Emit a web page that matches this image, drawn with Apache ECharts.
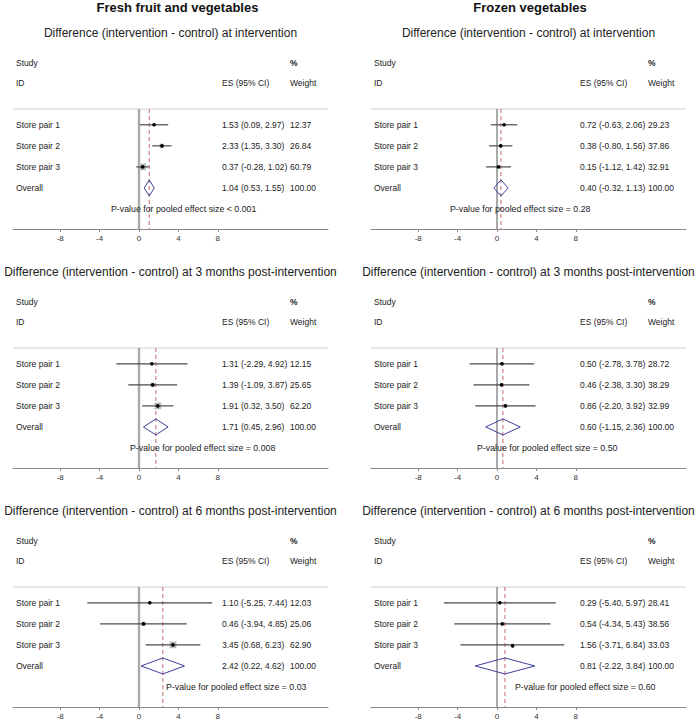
<!DOCTYPE html>
<html>
<head>
<meta charset="utf-8">
<script src="https://cdn.jsdelivr.net/npm/echarts@6/dist/echarts.min.js"></script>
<style>
html,body{margin:0;padding:0;background:#fff;}
#chart{width:698px;height:723px;}
</style>
</head>
<body>
<div id="chart"></div>
<script>
// ---------------- data ----------------
const studies = ['Store pair 1', 'Store pair 2', 'Store pair 3'];
const columnTitles = ['Fresh fruit and vegetables', 'Frozen vegetables'];
const subtitles = [
  'Difference (intervention - control) at intervention',
  'Difference (intervention - control) at 3 months post-intervention',
  'Difference (intervention - control) at 6 months post-intervention'
];
const xTicks = [-8, -4, 0, 4, 8];

const freshIntES = [1.53, 2.33, 0.37];
const freshIntLo = [0.09, 1.35, -0.28];
const freshIntHi = [2.97, 3.30, 1.02];
const freshIntWt = [12.37, 26.84, 60.79];
const freshIntOverall = [1.04, 0.53, 1.55];
const freshIntP = 'P-value for pooled effect size < 0.001';

const frozenIntES = [0.72, 0.38, 0.15];
const frozenIntLo = [-0.63, -0.80, -1.12];
const frozenIntHi = [2.06, 1.56, 1.42];
const frozenIntWt = [29.23, 37.86, 32.91];
const frozenIntOverall = [0.40, -0.32, 1.13];
const frozenIntP = 'P-value for pooled effect size = 0.28';

const fresh3mES = [1.31, 1.39, 1.91];
const fresh3mLo = [-2.29, -1.09, 0.32];
const fresh3mHi = [4.92, 3.87, 3.50];
const fresh3mWt = [12.15, 25.65, 62.20];
const fresh3mOverall = [1.71, 0.45, 2.96];
const fresh3mP = 'P-value for pooled effect size = 0.008';

const frozen3mES = [0.50, 0.46, 0.86];
const frozen3mLo = [-2.78, -2.38, -2.20];
const frozen3mHi = [3.78, 3.30, 3.92];
const frozen3mWt = [28.72, 38.29, 32.99];
const frozen3mOverall = [0.60, -1.15, 2.36];
const frozen3mP = 'P-value for pooled effect size = 0.50';

const fresh6mES = [1.10, 0.46, 3.45];
const fresh6mLo = [-5.25, -3.94, 0.68];
const fresh6mHi = [7.44, 4.85, 6.23];
const fresh6mWt = [12.03, 25.06, 62.90];
const fresh6mOverall = [2.42, 0.22, 4.62];
const fresh6mP = 'P-value for pooled effect size = 0.03';

const frozen6mES = [0.29, 0.54, 1.56];
const frozen6mLo = [-5.40, -4.34, -3.71];
const frozen6mHi = [5.97, 5.43, 6.84];
const frozen6mWt = [28.41, 38.56, 33.03];
const frozen6mOverall = [0.81, -2.22, 3.84];
const frozen6mP = 'P-value for pooled effect size = 0.60';

// panels: [row][col]
const panels = [
  [
    {es: freshIntES, lo: freshIntLo, hi: freshIntHi, wt: freshIntWt, ov: freshIntOverall, p: freshIntP},
    {es: frozenIntES, lo: frozenIntLo, hi: frozenIntHi, wt: frozenIntWt, ov: frozenIntOverall, p: frozenIntP}
  ],
  [
    {es: fresh3mES, lo: fresh3mLo, hi: fresh3mHi, wt: fresh3mWt, ov: fresh3mOverall, p: fresh3mP},
    {es: frozen3mES, lo: frozen3mLo, hi: frozen3mHi, wt: frozen3mWt, ov: frozen3mOverall, p: frozen3mP}
  ],
  [
    {es: fresh6mES, lo: fresh6mLo, hi: fresh6mHi, wt: fresh6mWt, ov: fresh6mOverall, p: fresh6mP},
    {es: frozen6mES, lo: frozen6mLo, hi: frozen6mHi, wt: frozen6mWt, ov: frozen6mOverall, p: frozen6mP}
  ]
];

// ---------------- style / layout ----------------
const FONT = '"Liberation Sans", Arial, Helvetica, sans-serif';
const BODY = 8.5;
const GRID_LEFT = [13, 371];
const GRID_W = 315;
const GRID_TOP = [109, 348, 587];
const GRID_H = 120;
const TITLE_X = [177.5, 530];
const TEXT_COLOR = '#222';
const pTextOffset = [[-28, -47], [-9, -20], [27, 18]]; // pixel offset from zero
const zeroStyle = [{color: '#a9a9a9', width: 2.4}, {color: '#555', width: 1}];
const boxScale = [0.85, 0.45];

function fmt(v) { return v.toFixed(2); }
function txt(text, x, y, opts) {
  opts = opts || {};
  return {
    type: 'text',
    style: {
      text: text, x: x, y: y,
      font: (opts.bold ? 'bold ' : '') + (opts.size || BODY) + 'px ' + FONT,
      fill: opts.color || TEXT_COLOR,
      textAlign: opts.align || 'left', align: opts.align || 'left',
      textVerticalAlign: 'middle', verticalAlign: 'middle'
    }
  };
}

const grids = [], xAxes = [], yAxes = [], series = [], graphics = [];

for (let c = 0; c < 2; c++) {
  graphics.push(txt(columnTitles[c], TITLE_X[c], 7.5, {size: 13, bold: true, align: 'center', color: '#111'}));
}

let gi = 0;
for (let r = 0; r < 3; r++) {
  for (let c = 0; c < 2; c++) {
    const P = panels[r][c];
    grids.push({left: GRID_LEFT[c], top: GRID_TOP[r], width: GRID_W, height: GRID_H, containLabel: false});
    xAxes.push({
      type: 'value', gridIndex: gi, min: -12.8, max: 19.2,
      axisLine: {show: true, onZero: false, lineStyle: {color: '#8a8a8a', width: 1}},
      axisTick: {show: true, customValues: xTicks, length: 3, lineStyle: {color: '#8a8a8a'}},
      axisLabel: {show: true, customValues: xTicks, fontSize: 8, color: '#333', margin: 5, fontFamily: FONT},
      splitLine: {show: false}
    });
    yAxes.push({type: 'value', gridIndex: gi, inverse: true, min: -0.75, max: 4.95, show: false});

    graphics.push(txt(subtitles[r], GRID_LEFT[c] + GRID_W / 2, GRID_TOP[r] - 76, {size: 12, align: 'center', color: '#222'}));

    const zs = zeroStyle[c];
    const pOff = pTextOffset[r][c];
    const bs = boxScale[c];

    // header, reference lines, p-value
    series.push({
      type: 'custom', xAxisIndex: gi, yAxisIndex: gi, silent: true, clip: false, z: 1,
      data: [[P.ov[0]]],
      renderItem: function (params, api) {
        const cs = params.coordSys;
        const x0 = api.coord([0, 0])[0];
        const xo = api.coord([api.value(0), 0])[0];
        const top = cs.y, bot = cs.y + cs.height;
        return {
          type: 'group',
          children: [
            {type: 'line', shape: {x1: cs.x, y1: top, x2: cs.x + cs.width, y2: top}, style: {stroke: '#cfcfcf', lineWidth: 1}},
            {type: 'line', shape: {x1: x0, y1: top, x2: x0, y2: bot}, style: {stroke: zs.color, lineWidth: zs.width}},
            {type: 'line', shape: {x1: xo, y1: top, x2: xo, y2: bot}, style: {stroke: '#c46a6a', lineWidth: 1, lineDash: [4, 3]}},
            txt('Study', cs.x + 3, top - 46),
            txt('%', cs.x + 277, top - 46, {bold: true}),
            txt('ID', cs.x + 3, top - 26),
            txt('ES (95% CI)', cs.x + 209, top - 26),
            txt('Weight', cs.x + 277, top - 26),
            txt(P.p, x0 + pOff, api.coord([0, 4])[1], {size: 8.8})
          ]
        };
      }
    });

    // study rows
    const rowData = studies.map((s, i) => [P.lo[i], P.hi[i], P.es[i], i, P.wt[i]]);
    series.push({
      type: 'custom', xAxisIndex: gi, yAxisIndex: gi, silent: true, clip: false, z: 3,
      data: rowData,
      renderItem: function (params, api) {
        const cs = params.coordSys;
        const lo = api.value(0), hi = api.value(1), es = api.value(2), row = api.value(3), wt = api.value(4);
        const pl = api.coord([lo, row]), ph = api.coord([hi, row]), pe = api.coord([es, row]);
        const side = bs * Math.sqrt(wt);
        return {
          type: 'group',
          children: [
            {type: 'rect', shape: {x: pe[0] - side / 2, y: pe[1] - side / 2, width: side, height: side}, style: {fill: '#b9b9b9'}},
            {type: 'line', shape: {x1: pl[0], y1: pl[1], x2: ph[0], y2: ph[1]}, style: {stroke: '#4a4a4a', lineWidth: 1.2}},
            {type: 'circle', shape: {cx: pe[0], cy: pe[1], r: 1.8}, style: {fill: '#000'}},
            txt(studies[params.dataIndex], cs.x + 3, pe[1]),
            txt(fmt(es) + ' (' + fmt(lo) + ', ' + fmt(hi) + ')', cs.x + 209, pe[1]),
            txt(fmt(wt), cs.x + 277, pe[1])
          ]
        };
      }
    });

    // overall diamond
    series.push({
      type: 'custom', xAxisIndex: gi, yAxisIndex: gi, silent: true, clip: false, z: 3,
      data: [[P.ov[1], P.ov[2], P.ov[0], 3, 100]],
      renderItem: function (params, api) {
        const cs = params.coordSys;
        const lo = api.value(0), hi = api.value(1), es = api.value(2), row = api.value(3), wt = api.value(4);
        const pl = api.coord([lo, row]), ph = api.coord([hi, row]), pe = api.coord([es, row]);
        const h = 8;
        return {
          type: 'group',
          children: [
            {type: 'polygon', shape: {points: [[pl[0], pe[1]], [pe[0], pe[1] - h], [ph[0], pe[1]], [pe[0], pe[1] + h]]},
              style: {fill: 'none', stroke: '#3f3f9e', lineWidth: 1}},
            txt('Overall', cs.x + 3, pe[1]),
            txt(fmt(es) + ' (' + fmt(lo) + ', ' + fmt(hi) + ')', cs.x + 209, pe[1]),
            txt(fmt(wt), cs.x + 277, pe[1])
          ]
        };
      }
    });
    gi++;
  }
}

const chart = echarts.init(document.getElementById('chart'), null, {renderer: 'svg'});
chart.setOption({
  animation: false,
  backgroundColor: '#fff',
  textStyle: {fontFamily: FONT},
  grid: grids,
  xAxis: xAxes,
  yAxis: yAxes,
  graphic: graphics,
  series: series
});
</script>
</body>
</html>
